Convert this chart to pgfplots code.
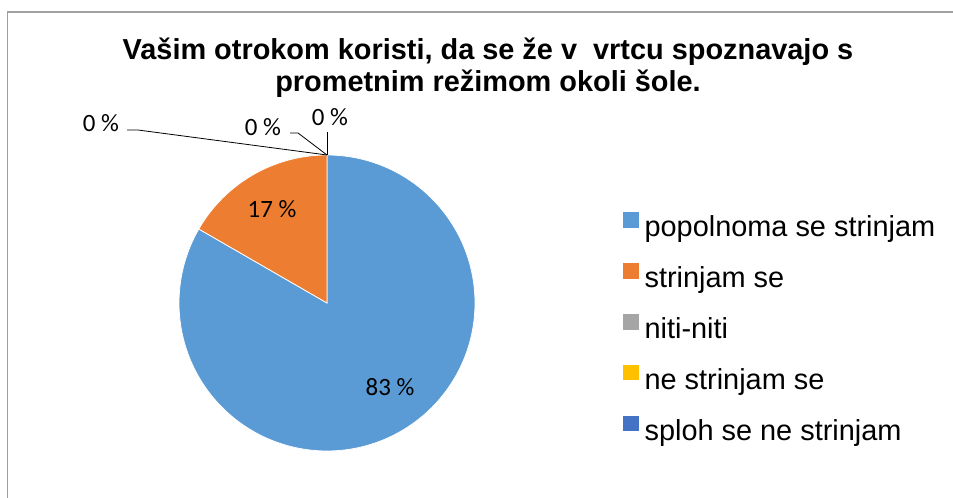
\documentclass[border=0pt]{standalone}
\usepackage{fontspec}
\setmainfont{Liberation Sans}
\newfontfamily\calib{Carlito}
\usepackage{pgfplots}
\usepackage{pgfplotstable}
\pgfplotsset{compat=1.18}
\definecolor{cA}{HTML}{5B9BD5}
\definecolor{cB}{HTML}{ED7D31}
\definecolor{cC}{HTML}{A5A5A5}
\definecolor{cD}{HTML}{FFC000}
\definecolor{cE}{HTML}{4472C4}
\definecolor{frame}{RGB}{160,160,160}

\pgfplotstableread{
cat value
1 83.33
2 16.67
3 0
4 0
5 0
}\piedata
\pgfplotstablegetelem{0}{value}\of\piedata \let\vA\pgfplotsretval
\pgfplotstablegetelem{1}{value}\of\piedata \let\vB\pgfplotsretval
\pgfplotstablegetelem{2}{value}\of\piedata \let\vC\pgfplotsretval
\pgfplotstablegetelem{3}{value}\of\piedata \let\vD\pgfplotsretval
\pgfplotstablegetelem{4}{value}\of\piedata \let\vE\pgfplotsretval
\pgfmathsetmacro\aS{90}
\pgfmathsetmacro\aA{90-3.6*\vA}
\pgfmathsetmacro\aB{\aA-3.6*\vB}
\pgfmathtruncatemacro\lA{round(\vA)}
\pgfmathtruncatemacro\lB{round(\vB)}
\pgfmathtruncatemacro\lC{round(\vC)}
\pgfmathtruncatemacro\lD{round(\vD)}
\pgfmathtruncatemacro\lE{round(\vE)}

\begin{document}
\begin{tikzpicture}
\begin{axis}[
  hide axis, clip=false, scale only axis,
  width=953bp, height=498bp,
  xmin=0, xmax=953, ymin=0, ymax=498,
  legend image code/.code={\fill[#1, draw=none] (0bp,1.2bp) rectangle (15.6bp,16.8bp);},
  legend cell align=left,
  legend style={draw=none, fill=none, inner sep=0pt, outer sep=0pt,
    at={(0.6537,0.3392)}, anchor=west,
    font=\fontsize{29}{34}\selectfont,
    nodes={inner sep=0pt, text height=21bp, text depth=6bp},
    row sep=20.6bp,
    /tikz/every odd column/.append style={column sep=6bp}},
]
% frame
\addplot[frame, line width=1.5bp, forget plot] coordinates {(7.5,0) (7.5,486) (953,486)};

% slices
\addplot[fill=cA, draw=white, line width=0.75bp, domain=\aA:\aS, samples=150, variable=\t]
  ({327+148*cos(\t)}, {195+148*sin(\t)}) -- (327,195) -- cycle;
\addplot[fill=cB, draw=white, line width=0.75bp, domain=\aB:\aA, samples=60, variable=\t]
  ({327+148*cos(\t)}, {195+148*sin(\t)}) -- (327,195) -- cycle;
\addplot[fill=cC, draw=none] coordinates {(327,195)};
\addplot[fill=cD, draw=none] coordinates {(327,195)};
\addplot[fill=cE, draw=none] coordinates {(327,195)};

% leader lines
\addplot[black, line width=0.8bp, forget plot] coordinates {(127,368) (138,368) (327,343)};
\addplot[black, line width=0.8bp, forget plot] coordinates {(290,365) (298,365) (327,343)};
\addplot[black, line width=0.8bp, forget plot] coordinates {(327,366) (327,343)};

% data labels
\node[font=\calib\fontsize{25}{30}\selectfont] at (272,289) {\lB~\%};
\node[font=\calib\fontsize{25}{30}\selectfont] at (390,111) {\lA~\%};
\node[font=\calib\fontsize{25}{30}\selectfont] at (101,375) {\lE~\%};
\node[font=\calib\fontsize{25}{30}\selectfont] at (263,371) {\lD~\%};
\node[font=\calib\fontsize{25}{30}\selectfont] at (330,381) {\lC~\%};

% title
\node[anchor=base, font=\bfseries\fontsize{29}{33}\selectfont] at (488,438) {Vašim otrokom koristi, da se že v\ \ vrtcu spoznavajo s};
\node[anchor=base, font=\bfseries\fontsize{29}{33}\selectfont] at (488,406) {prometnim režimom okoli šole.};

\legend{popolnoma se strinjam, strinjam se, niti-niti, ne strinjam se, sploh se ne strinjam}
\end{axis}
\pgfresetboundingbox
\path (0,0) rectangle (953bp,498bp);
\end{tikzpicture}
\end{document}
